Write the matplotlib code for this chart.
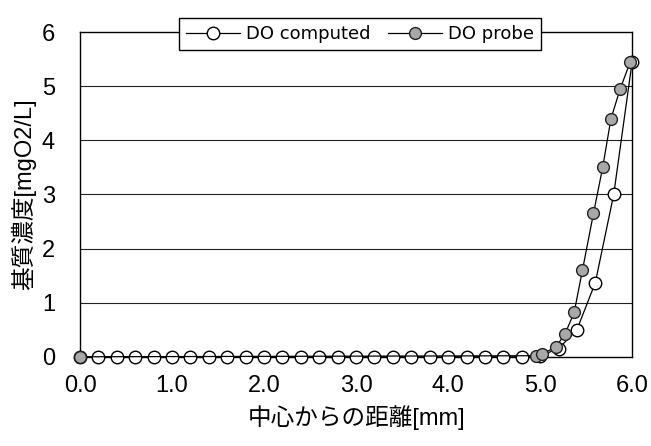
import matplotlib
matplotlib.use("Agg")
import matplotlib.pyplot as plt

plt.rcParams['font.family'] = ['Liberation Sans', 'Noto Sans CJK JP', 'DejaVu Sans']

# DO computed (open circles), 0.2 mm steps
x_calc = [0.0, 0.2, 0.4, 0.6, 0.8, 1.0, 1.2, 1.4, 1.6, 1.8, 2.0, 2.2, 2.4, 2.6, 2.8,
          3.0, 3.2, 3.4, 3.6, 3.8, 4.0, 4.2, 4.4, 4.6, 4.8, 5.0, 5.2, 5.4, 5.6, 5.8, 6.0]
do_calc = [0.0, 0.0, 0.0, 0.0, 0.0, 0.0, 0.0, 0.0, 0.0, 0.0, 0.0, 0.0, 0.0, 0.0, 0.0,
           0.0, 0.0, 0.0, 0.0, 0.0, 0.0, 0.0, 0.0, 0.0, 0.0, 0.02, 0.15, 0.5, 1.37, 3.0, 5.45]

# DO probe (grey markers)
x_probe = [0.0, 4.95, 5.02, 5.17, 5.27, 5.37, 5.46, 5.58, 5.68, 5.77, 5.87, 5.98]
do_probe = [0.0, 0.02, 0.05, 0.18, 0.42, 0.82, 1.6, 2.65, 3.5, 4.4, 4.95, 5.45]

xticks = [0, 1, 2, 3, 4, 5, 6]
xtick_labels = ['0.0', '1.0', '2.0', '3.0', '4.0', '5.0', '6.0']
yticks = [0, 1, 2, 3, 4, 5, 6]

fig = plt.figure(figsize=(6.51, 4.46), dpi=100)
ax = fig.add_axes([0.123, 0.2, 0.848, 0.728])

for yv in yticks[1:-1]:
    ax.axhline(yv, color='#222222', lw=0.8, zorder=1)

ax.plot(x_calc, do_calc, '-', color='black', lw=0.9, marker='o', ms=9,
        mfc='white', mec='black', mew=1.0, label='DO computed', clip_on=False, zorder=3)
ax.plot(x_probe, do_probe, '-', color='black', lw=0.9, marker='o', ms=8.5,
        mfc='#a8a8a8', mec='#222222', mew=1.0, label='DO probe', clip_on=False, zorder=4)

ax.set_xlim(0, 6)
ax.set_ylim(0, 6)
ax.set_xticks(xticks)
ax.set_xticklabels(xtick_labels)
ax.set_yticks(yticks)
ax.tick_params(length=0, labelsize=17, pad=13)
ax.tick_params(axis='y', pad=18)
for s in ax.spines.values():
    s.set_color('black')
    s.set_linewidth(1.0)

ax.set_xlabel('中心からの距離[mm]', fontsize=17, labelpad=6)
ax.set_ylabel('基質濃度[mgO2/L]', fontsize=17, labelpad=4)

leg = ax.legend(loc='center', bbox_to_anchor=(0.507, 0.994), ncol=2,
                frameon=True, fancybox=False, framealpha=1, edgecolor='black',
                handlelength=3.0, columnspacing=1.0, handletextpad=0.3,
                borderpad=0.4, prop={'family': 'DejaVu Sans', 'size': 13})
leg.get_frame().set_linewidth(1.0)
leg.set_zorder(10)

fig.savefig('out.png', dpi=100)
